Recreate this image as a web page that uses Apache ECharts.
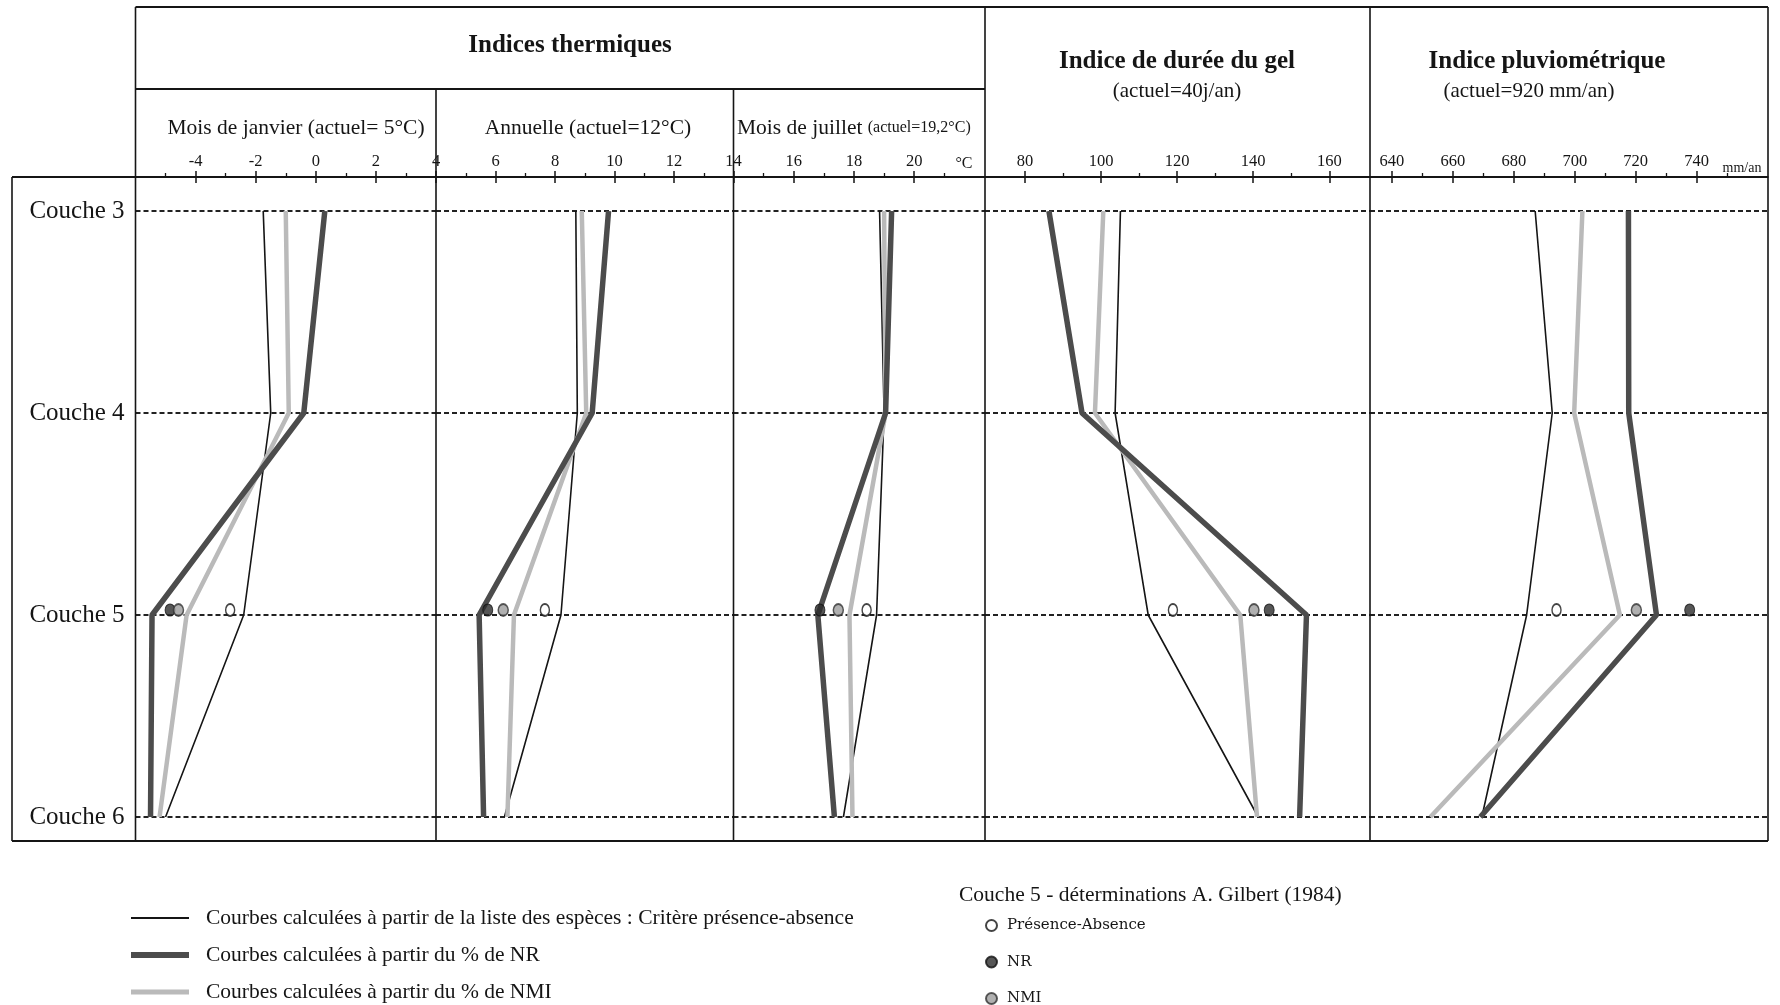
<!DOCTYPE html>
<html><head><meta charset="utf-8">
<script src="https://cdn.jsdelivr.net/npm/echarts@6/dist/echarts.min.js"></script>
<style>html,body{margin:0;padding:0;background:#fff}#c{width:1780px;height:1005px}</style>
</head><body><div id="c"></div>
<script>
// ---------- DATA ----------
const layers = ['Couche 3', 'Couche 4', 'Couche 5', 'Couche 6'];

// Panel 1 : Mois de janvier (°C)
const janPA  = [-1.75, -1.5, -2.4, -5.0];
const janNR  = [0.3, -0.4, -5.45, -5.5];
const janNMI = [-1.0, -0.9, -4.3, -5.2];
// Panel 2 : Annuelle (°C)
const annPA  = [8.7, 8.75, 8.2, 6.3];
const annNR  = [9.8, 9.25, 5.45, 5.6];
const annNMI = [8.9, 9.05, 6.62, 6.4];
// Panel 3 : Mois de juillet (°C)
const julPA  = [18.85, 19.0, 18.75, 17.65];
const julNR  = [19.25, 19.05, 16.8, 17.35];
const julNMI = [19.0, 19.05, 17.85, 17.95];
// Panel 4 : Indice de durée du gel (j/an)
const gelPA  = [105.1, 103.7, 112.4, 141.3];
const gelNR  = [86.3, 95.0, 154.0, 152.2];
const gelNMI = [100.6, 98.4, 136.6, 141.0];
// Panel 5 : Indice pluviométrique (mm/an)
const pluPA  = [687.0, 692.6, 684.2, 669.5];
const pluNR  = [717.6, 717.7, 726.8, 669.0];
const pluNMI = [702.5, 699.8, 714.8, 652.6];

// Couche 5 – déterminations A. Gilbert (1984), one value per panel
const c5PA  = [-2.85, 7.66, 18.42, 118.9, 694.0];
const c5NR  = [-4.85, 5.74, 16.87, 144.2, 737.7];
const c5NMI = [-4.57, 6.26, 17.48, 140.2, 720.2];

// Axis ticks / labels
const janLabels = [-4, -2, 0, 2, 4],        janMinor = [-5, -3, -1, 1, 3];
const annLabels = [6, 8, 10, 12, 14],       annMinor = [5, 7, 9, 11, 13];
const julLabels = [16, 18, 20],             julMinor = [15, 17, 19, 21];
const gelLabels = [80, 100, 120, 140, 160], gelMinor = [90, 110, 130, 150];
const pluLabels = [640, 660, 680, 700, 720, 740], pluMinor = [650, 670, 690, 710, 730, 750];

const seriesNames = [
  'Courbes calculées à partir de la liste des espèces : Critère présence-absence',
  'Courbes calculées à partir du % de NR',
  'Courbes calculées à partir du % de NMI'
];
const markerNames = ['Présence-Absence', 'NR', 'NMI'];

// ---------- LAYOUT ----------
const FF = '"Liberation Serif","Times New Roman",serif';
const panels = [
  {pa: janPA, nr: janNR, nmi: janNMI, min: -6,    max: 4,     labels: janLabels, minor: janMinor, left: 135.5, right: 436},
  {pa: annPA, nr: annNR, nmi: annNMI, min: 4,     max: 14,    labels: annLabels, minor: annMinor, left: 436,   right: 733.5},
  {pa: julPA, nr: julNR, nmi: julNMI, min: 14,    max: 22.35, labels: julLabels, minor: julMinor, left: 733.5, right: 985},
  {pa: gelPA, nr: gelNR, nmi: gelNMI, min: 69.5,  max: 170.7, labels: gelLabels, minor: gelMinor, left: 985,   right: 1370},
  {pa: pluPA, nr: pluNR, nmi: pluNMI, min: 632.8, max: 763.4, labels: pluLabels, minor: pluMinor, left: 1370,  right: 1768}
];
const GRID_TOP = 211, GRID_BOTTOM_Y = 817, AXIS_Y = 177;
const INK = '#151515';
const C_NR = '#4c4c4c', C_NMI = '#bababa';

const grids = [], xAxes = [], yAxes = [], series = [];
panels.forEach((p, i) => {
  grids.push({left: p.left, width: p.right - p.left, top: GRID_TOP, height: GRID_BOTTOM_Y - GRID_TOP, outerBoundsMode: 'none', containLabel: false});
  const base = {gridIndex: i, type: 'value', position: 'top', offset: GRID_TOP - AXIS_Y, min: p.min, max: p.max, splitLine: {show: false}};
  xAxes.push(Object.assign({}, base, {
    axisLine: {show: true, lineStyle: {color: INK, width: 1.6}},
    axisTick: {show: true, inside: false, length: 6, customValues: p.labels, lineStyle: {color: INK, width: 1.5}},
    axisLabel: {show: true, customValues: p.labels, margin: 7, fontSize: 16.5, color: INK, fontFamily: FF}
  }));
  xAxes.push(Object.assign({}, base, {
    axisLine: {show: false},
    axisTick: {show: true, inside: true, length: 6, customValues: p.labels, lineStyle: {color: INK, width: 1.5}},
    axisLabel: {show: false}
  }));
  xAxes.push(Object.assign({}, base, {
    axisLine: {show: false},
    axisTick: {show: true, inside: false, length: 4, customValues: p.minor, lineStyle: {color: INK, width: 1.3}},
    axisLabel: {show: false}
  }));
  yAxes.push({
    gridIndex: i, type: 'category', data: layers, inverse: true, boundaryGap: false,
    axisLine: {show: false}, axisTick: {show: false},
    axisLabel: {show: i === 0, fontSize: 25, color: INK, fontFamily: FF, margin: 11},
    splitLine: {show: true, lineStyle: {type: [5, 3], color: '#222', width: 1.8}}
  });
  const xi = i * 3;
  const mk = arr => arr.map((v, j) => [v, layers[j]]);
  series.push({name: seriesNames[0], type: 'line', xAxisIndex: xi, yAxisIndex: i, data: mk(p.pa),
    symbol: 'none', lineStyle: {color: INK, width: 1.6}, itemStyle: {color: INK}, z: 2});
  series.push({name: seriesNames[2], type: 'line', xAxisIndex: xi, yAxisIndex: i, data: mk(p.nmi),
    symbol: 'none', lineStyle: {color: C_NMI, width: 4.5}, itemStyle: {color: C_NMI}, z: 3});
  series.push({name: seriesNames[1], type: 'line', xAxisIndex: xi, yAxisIndex: i, data: mk(p.nr),
    symbol: 'none', lineStyle: {color: C_NR, width: 5.5}, itemStyle: {color: C_NR}, z: 4});
  series.push({name: markerNames[0], type: 'scatter', xAxisIndex: xi, yAxisIndex: i, data: [[c5PA[i], layers[2]]],
    symbol: 'circle', symbolSize: [9, 12], symbolOffset: [0, -5],
    itemStyle: {color: '#ffffff', borderColor: INK, borderWidth: 1.6}, z: 6});
  series.push({name: markerNames[1], type: 'scatter', xAxisIndex: xi, yAxisIndex: i, data: [[c5NR[i], layers[2]]],
    symbol: 'circle', symbolSize: [10, 12], symbolOffset: [0, -5],
    itemStyle: {color: '#2c2c2c', borderColor: '#111', borderWidth: 1}, z: 6});
  series.push({name: markerNames[2], type: 'scatter', xAxisIndex: xi, yAxisIndex: i, data: [[c5NMI[i], layers[2]]],
    symbol: 'circle', symbolSize: [10, 12], symbolOffset: [0, -5],
    itemStyle: {color: '#9c9c9c', borderColor: '#333', borderWidth: 1.6}, z: 6});
});

// ---------- FRAME & TEXT (graphic) ----------
const L = (x1, y1, x2, y2, w) => ({type: 'line', silent: true, z: 10,
  shape: {x1, y1, x2, y2}, style: {stroke: INK, lineWidth: w || 1.6}});
const T = (text, x, y, font, align) => ({type: 'text', silent: true, z: 10, x, y,
  style: {text, font, fill: INK, textAlign: align || 'center', textVerticalAlign: 'middle'}});
const TOP_Y = 7, SUB_Y = 89, BOT_Y = 841, LEFT_OUT = 12;
const graphic = [
  L(135.5, TOP_Y, 1768, TOP_Y, 2),
  L(135.5, TOP_Y, 135.5, BOT_Y),
  L(1768, TOP_Y, 1768, BOT_Y),
  L(985, TOP_Y, 985, BOT_Y),
  L(1370, TOP_Y, 1370, BOT_Y),
  L(135.5, SUB_Y, 985, SUB_Y, 1.8),
  L(436, SUB_Y, 436, BOT_Y),
  L(733.5, SUB_Y, 733.5, BOT_Y),
  L(LEFT_OUT, AXIS_Y, 1768, AXIS_Y, 1.8),
  L(LEFT_OUT, AXIS_Y, LEFT_OUT, BOT_Y),
  L(LEFT_OUT, BOT_Y, 1768, BOT_Y, 2.2),
  T('Indices thermiques', 570, 46, 'bold 25px ' + FF),
  T('Mois de janvier (actuel= 5°C)', 296, 128, '21.5px ' + FF),
  T('Annuelle (actuel=12°C)', 588, 128, '21.5px ' + FF),
  {type: 'text', silent: true, z: 10, x: 737, y: 128,
    style: {text: '{a|Mois de juillet }{b|(actuel=19,2°C)}', textAlign: 'left', textVerticalAlign: 'middle',
      rich: {a: {font: '21.5px ' + FF, fill: INK}, b: {font: '16px ' + FF, fill: INK}}}},
  T('°C', 964, 164, '16px ' + FF),
  T('Indice de durée du gel', 1177, 62, 'bold 25px ' + FF),
  T('(actuel=40j/an)', 1177, 91, '21px ' + FF),
  T('Indice pluviométrique', 1547, 62, 'bold 25px ' + FF),
  T('(actuel=920 mm/an)', 1529, 91, '21px ' + FF),
  T('mm/an', 1742, 168, '14px ' + FF),
  T('Couche 5 - déterminations A. Gilbert (1984)', 959, 895, '21.5px ' + FF, 'left')
];

const lineIcons = ['path://M0,0H60V2H0Z', 'path://M0,0H60V6H0Z', 'path://M0,0H60V5H0Z'];

const chart = echarts.init(document.getElementById('c'), null, {renderer: 'canvas'});
chart.setOption({
  animation: false,
  backgroundColor: '#fff',
  grid: grids, xAxis: xAxes, yAxis: yAxes, series,
  legend: [
    {data: seriesNames.map((n, k) => ({name: n, icon: lineIcons[k]})),
      orient: 'vertical', left: 131, top: 907, height: 160, padding: 0,
      itemWidth: 58, itemHeight: 20, itemGap: 15, selectedMode: false,
      textStyle: {fontFamily: FF, fontSize: 21.5, color: INK, lineHeight: 20, padding: [0, 0, 0, 12]}},
    {data: markerNames, orient: 'vertical', left: 985, top: 918, height: 160, padding: 0,
      itemWidth: 11, itemHeight: 13, itemGap: 21.5, selectedMode: false,
      textStyle: {fontFamily: '"DejaVu Serif",serif', fontSize: 15, color: INK, lineHeight: 13, padding: [0, 0, 0, 5]}}
  ],
  graphic
});
</script></body></html>
